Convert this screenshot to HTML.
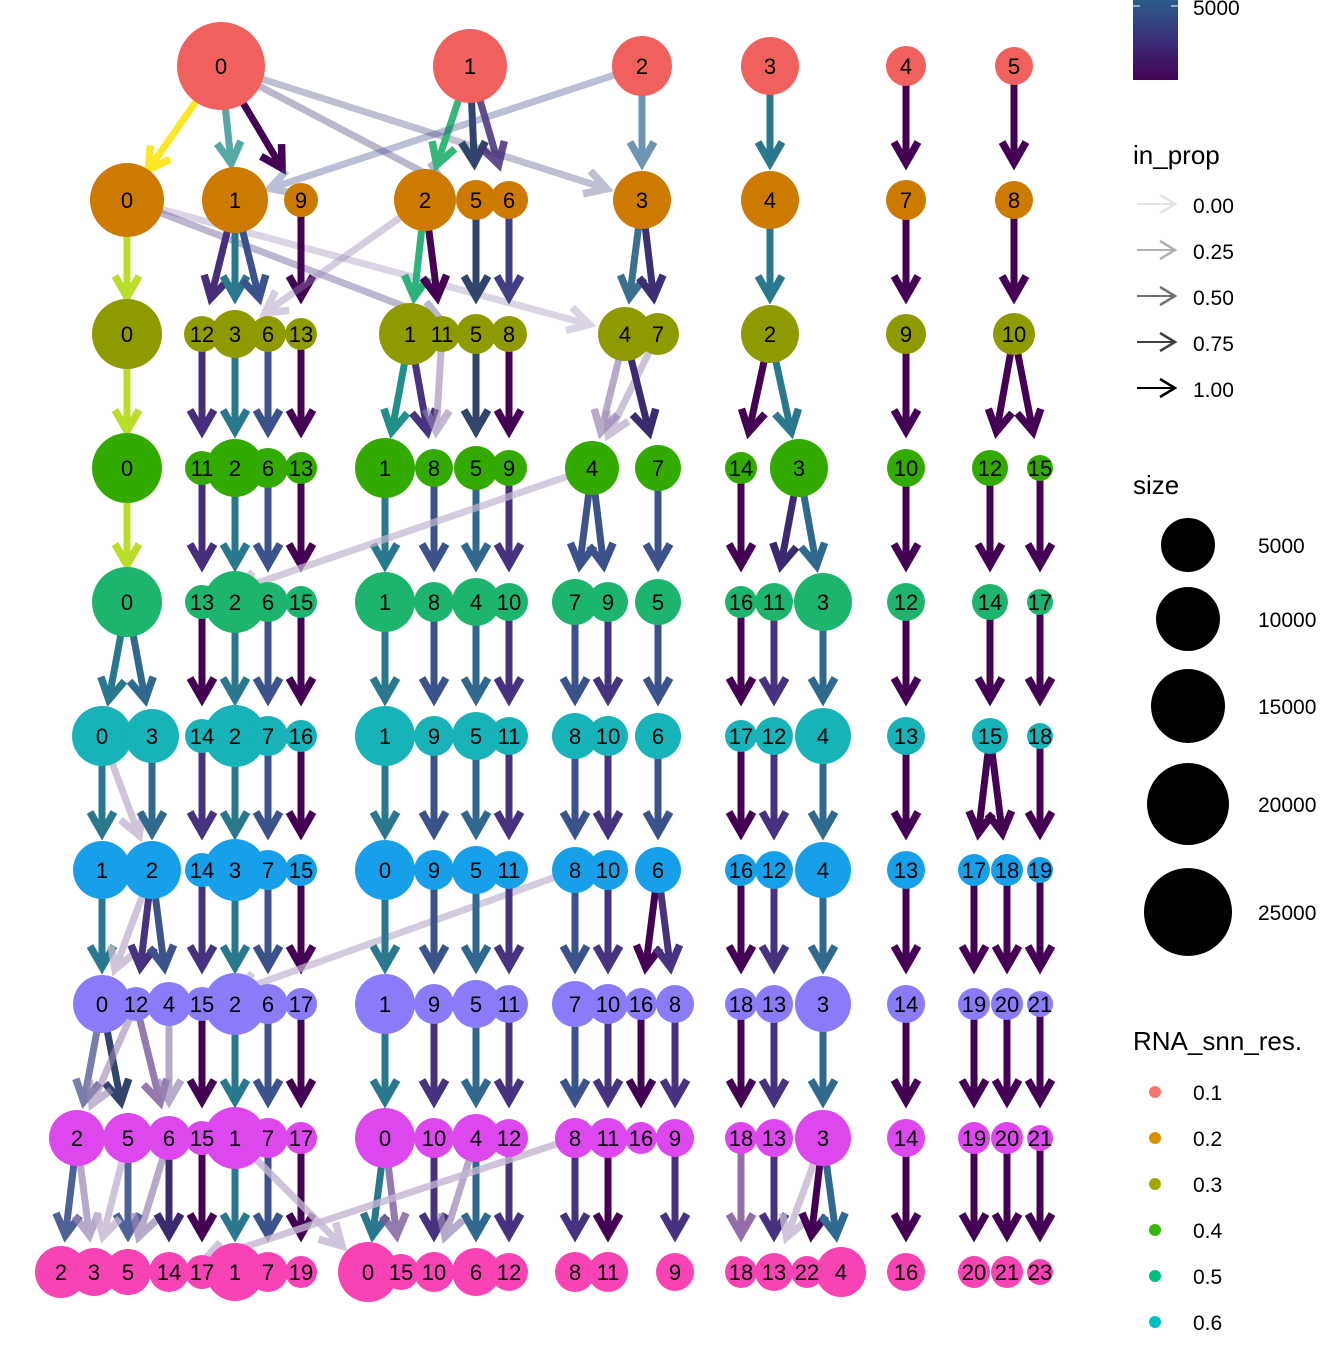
<!DOCTYPE html>
<html><head><meta charset="utf-8"><style>
html,body{margin:0;padding:0;background:#fff;}
svg text{font-family:"Liberation Sans",Arial,sans-serif;}
</style></head><body>
<svg id="s" xmlns="http://www.w3.org/2000/svg" width="1344" height="1344" viewBox="0 0 1344 1344">
<defs><linearGradient id="vg" x1="0" y1="1" x2="0" y2="0">
<stop offset="0" stop-color="#440154"/><stop offset="0.5" stop-color="#3b2f7a"/><stop offset="1" stop-color="#2a5c8a"/></linearGradient></defs>
<rect width="1344" height="1344" fill="#fff"/>
<g id="edges"></g><g id="nodes"></g>
<g id="legend">
<rect x="1133" y="0" width="45" height="80" fill="url(#vg)"/>
<line x1="1133" y1="6" x2="1140" y2="6" stroke="#fff" stroke-width="1"/>
<line x1="1171" y1="6" x2="1178" y2="6" stroke="#fff" stroke-width="1"/>
<text x="1193" y="15" font-size="21">5000</text>
<text x="1133" y="164" font-size="26">in_prop</text>
<text x="1193" y="213" font-size="21">0.00</text>
<text x="1193" y="259" font-size="21">0.25</text>
<text x="1193" y="305" font-size="21">0.50</text>
<text x="1193" y="351" font-size="21">0.75</text>
<text x="1193" y="397" font-size="21">1.00</text>
<text x="1133" y="494" font-size="26">size</text>
<circle cx="1188" cy="545" r="27"/><circle cx="1188" cy="619" r="32"/><circle cx="1188" cy="706" r="37"/><circle cx="1188" cy="804" r="41"/><circle cx="1188" cy="912" r="44"/>
<text x="1258" y="553" font-size="21">5000</text>
<text x="1258" y="627" font-size="21">10000</text>
<text x="1258" y="714" font-size="21">15000</text>
<text x="1258" y="812" font-size="21">20000</text>
<text x="1258" y="920" font-size="21">25000</text>
<text x="1133" y="1050" font-size="26">RNA_snn_res.</text>
<circle cx="1155" cy="1092" r="6" fill="#F8766D"/><text x="1193" y="1100" font-size="21">0.1</text>
<circle cx="1155" cy="1138" r="6" fill="#D89000"/><text x="1193" y="1146" font-size="21">0.2</text>
<circle cx="1155" cy="1184" r="6" fill="#A3A500"/><text x="1193" y="1192" font-size="21">0.3</text>
<circle cx="1155" cy="1230" r="6" fill="#39B600"/><text x="1193" y="1238" font-size="21">0.4</text>
<circle cx="1155" cy="1276" r="6" fill="#00BF7D"/><text x="1193" y="1284" font-size="21">0.5</text>
<circle cx="1155" cy="1322" r="6" fill="#00BFC4"/><text x="1193" y="1330" font-size="21">0.6</text>
</g>
</svg>
<script>
var NS="http://www.w3.org/2000/svg";
var cols=["#F0605D","#CC7A00","#8F9A00","#33AA00","#1DB56D","#17B3B8","#189FEA","#8A7CF8","#DD48EE","#F843B4"];
var rows=[
"0:221:44 1:470:37 2:642:30 3:770:29 4:906:20 5:1014:19",
"0:127:37 1:235:33 9:301:17 2:425:31 5:476:20 6:509:19 3:642:29 4:770:29 7:906:20 8:1014:19",
"0:127:35 12:202:18 3:235:24 6:268:18 13:301:16 1:410:31 11:442:18 5:476:20 8:509:18 4:625:27 7:658:21 2:770:29 9:906:20 10:1014:21",
"0:127:35 11:202:17 2:235:29 6:268:20 13:301:16 1:385:30 8:434:19 5:476:22 9:509:18 4:592:27 7:658:23 14:741:16 3:799:29 10:906:19 12:990:18 15:1040:13",
"0:127:35 13:202:17 2:235:31 6:268:20 15:301:16 1:385:30 8:434:20 4:476:24 10:509:19 7:575:23 9:608:20 5:658:23 16:741:16 11:774:19 3:823:29 12:906:19 14:990:18 17:1040:13",
"0:102:30 3:152:27 14:202:17 2:235:31 7:268:20 16:301:16 1:385:30 9:434:20 5:476:24 11:509:19 8:575:23 10:608:20 6:658:23 17:741:16 12:774:19 4:823:28 13:906:19 15:990:18 18:1040:13",
"1:102:29 2:152:29 14:202:17 3:235:31 7:268:20 15:301:16 0:385:30 9:434:20 5:476:24 11:509:19 8:575:23 10:608:20 6:658:23 16:741:16 12:774:19 4:823:28 13:906:19 17:974:16 18:1007:16 19:1040:13",
"0:102:29 12:136:17 4:169:22 15:202:17 2:235:31 6:268:20 17:301:16 1:385:30 9:434:20 5:476:24 11:509:19 7:575:23 10:608:20 16:641:16 8:675:19 18:741:16 13:774:19 3:823:28 14:906:19 19:974:16 20:1007:16 21:1040:13",
"2:77:28 5:128:25 6:169:22 15:202:17 1:235:31 7:268:20 17:301:16 0:385:30 10:434:20 4:476:24 12:509:19 8:575:20 11:608:20 16:641:16 9:675:19 18:741:16 13:774:19 3:823:28 14:906:19 19:974:16 20:1007:16 21:1040:13",
"2:61:26 3:94:24 5:128:23 14:169:20 17:202:17 1:235:29 7:268:20 19:301:16 0:368:30 15:401:18 10:434:20 6:476:24 12:509:19 8:575:20 11:608:20 9:675:19 18:741:16 13:774:19 22:807:16 4:841:25 16:906:19 20:974:16 21:1007:16 23:1040:13"
];
var N=[];
rows.forEach(function(r,i){var m={};r.split(" ").forEach(function(t){var p=t.split(":");m[p[0]]={x:+p[1],r:+p[2]};});N.push(m);});
var D="#440154",P="#46327e",B="#3b528b",T="#2a788e",U="#31688e",F="#9a86b4",G="#c4b6d2";
var E=[
[0,"0 0 #fde725 1|0 1 #3a9a96 0.85|0 9 #440154 1|0 5 #5a4a80 0.4|0 3 #4b4b80 0.35|1 2 #35b779 1|1 5 #31446b 1|1 6 #472d7b 0.85|2 1 #3e4a89 0.35|2 3 #4a7aa0 0.8|3 4 #2a788e 1|4 7 "+D+" 1|5 8 "+D+" 1"],
[1,"0 0 #b8de29 1|0 4 "+F+" 0.35|0 5 "+P+" 0.35|1 12 #472d7b 1|1 3 "+T+" 1|1 6 "+B+" 1|9 13 "+D+" 1|2 1 #2db27d 1|2 11 "+D+" 1|2 3 "+F+" 0.4|5 5 #31446b 1|6 8 #433e85 1|3 4 #3b6f8e 1|3 7 #3e2f72 1|4 2 "+T+" 1|7 9 "+D+" 1|8 10 "+D+" 1"],
[2,"0 0 #b8de29 1|12 11 #472d7b 1|3 2 "+T+" 1|6 6 "+B+" 1|13 13 "+D+" 1|1 1 #21908c 1|1 8 "+P+" 1|11 8 "+F+" 0.6|5 5 #31446b 1|8 9 "+D+" 1|4 4 "+F+" 0.7|7 4 "+F+" 0.5|4 7 #3b2a6e 1|2 14 "+D+" 1|2 3 "+T+" 1|9 10 "+D+" 1|10 12 "+D+" 1|10 15 "+D+" 1"],
[3,"0 0 #b8de29 1|11 13 #472d7b 1|2 2 "+T+" 1|6 6 "+B+" 1|13 15 "+D+" 1|1 1 "+T+" 1|8 8 "+B+" 1|5 4 "+U+" 1|9 10 "+P+" 1|4 7 "+B+" 1|4 9 "+B+" 1|7 5 "+B+" 1|4 13 "+G+" 0.7|14 16 "+D+" 1|3 11 #3b2a6e 1|3 3 "+U+" 1|10 12 "+D+" 1|12 14 "+D+" 1|15 17 "+D+" 1"],
[4,"0 0 "+T+" 1|0 3 "+U+" 1|13 14 "+D+" 1|2 2 "+T+" 1|6 7 "+B+" 1|15 16 "+D+" 1|1 1 "+T+" 1|8 9 "+B+" 1|4 5 "+U+" 1|10 11 "+P+" 1|7 8 "+B+" 1|9 10 "+P+" 1|5 6 "+B+" 1|16 17 "+D+" 1|11 12 "+P+" 1|3 4 "+U+" 1|12 13 "+D+" 1|14 15 "+D+" 1|17 18 "+D+" 1"],
[5,"0 1 "+T+" 1|0 2 "+G+" 0.8|3 2 "+U+" 1|14 14 "+P+" 1|2 3 "+T+" 1|7 7 "+B+" 1|16 15 "+D+" 1|1 0 "+T+" 1|9 9 "+B+" 1|5 5 "+U+" 1|11 11 "+P+" 1|8 8 "+B+" 1|10 10 "+P+" 1|6 6 "+B+" 1|17 16 "+D+" 1|12 12 "+P+" 1|4 4 "+U+" 1|13 13 "+D+" 1|15 17 "+D+" 1|15 18 "+D+" 1|18 19 "+D+" 1"],
[6,"1 0 "+T+" 1|2 0 "+G+" 0.8|2 12 "+P+" 1|2 4 "+B+" 1|14 15 "+P+" 1|3 2 "+T+" 1|7 6 "+B+" 1|15 17 "+D+" 1|8 15 "+G+" 0.7|0 1 "+T+" 1|9 9 "+B+" 1|5 5 "+U+" 1|11 11 "+P+" 1|8 7 "+B+" 1|10 10 "+P+" 1|6 16 "+D+" 1|6 8 "+P+" 1|16 18 "+D+" 1|12 13 "+P+" 1|4 3 "+U+" 1|13 14 "+D+" 1|17 19 "+D+" 1|18 20 "+D+" 1|19 21 "+D+" 1"],
[7,"0 2 #6b6fa0 0.9|0 5 #31446b 1|12 2 "+F+" 0.6|12 6 #7a5a9a 0.8|4 6 "+F+" 0.7|15 15 "+D+" 1|2 1 "+T+" 1|6 7 "+B+" 1|17 17 "+D+" 1|1 0 "+T+" 1|9 10 "+P+" 1|5 4 "+U+" 1|11 12 "+P+" 1|7 8 "+B+" 1|10 11 "+P+" 1|16 16 "+D+" 1|8 9 "+P+" 1|18 18 "+D+" 1|13 13 "+P+" 1|3 3 "+U+" 1|14 14 "+D+" 1|19 19 "+D+" 1|20 20 "+D+" 1|21 21 "+D+" 1"],
[8,"2 2 "+B+" 0.9|2 3 "+F+" 0.7|5 5 "+B+" 0.9|5 3 "+G+" 0.8|6 5 "+F+" 0.7|6 14 #3b2a6e 1|15 17 "+D+" 1|1 1 "+T+" 1|7 7 "+B+" 1|17 19 "+D+" 1|1 0 "+G+" 0.8|0 0 "+T+" 1|0 15 #7a5a9a 0.8|10 10 "+P+" 1|4 6 "+U+" 1|4 10 "+F+" 0.7|12 12 "+P+" 1|8 14 "+G+" 0.8|8 8 "+P+" 1|11 11 "+D+" 1|9 9 "+P+" 1|18 18 #7a4a90 0.8|13 13 "+P+" 1|3 13 "+G+" 0.8|3 22 "+D+" 1|3 4 "+U+" 1|14 16 "+D+" 1|19 20 "+D+" 1|20 21 "+D+" 1|21 23 "+D+" 1"]
];
var eg=document.getElementById("edges"),ng=document.getElementById("nodes");
function el(n,a,p){var e=document.createElementNS(NS,n);for(var k in a)e.setAttribute(k,a[k]);p.appendChild(e);return e;}
E.forEach(function(r){var i=r[0];r[1].split("|").forEach(function(s){var p=s.split(" ");var a=N[i][p[0]],b=N[i+1][p[1]];if(!a||!b)return;
var x1=a.x,y1=66+134*i,x2=b.x,y2=66+134*(i+1);var dx=x2-x1,dy=y2-y1,L=Math.sqrt(dx*dx+dy*dy),ux=dx/L,uy=dy/L;
var tx=x2-ux*37,ty=y2-uy*37;var g=el("g",{opacity:p[3]},eg);
el("line",{x1:x1,y1:y1,x2:tx-ux*4,y2:ty-uy*4,stroke:p[2],"stroke-width":7},g);
var al=21,aw=12;var bx=tx-ux*al,by=ty-uy*al;
el("polyline",{points:(bx-uy*aw)+","+(by+ux*aw)+" "+tx+","+ty+" "+(bx+uy*aw)+","+(by-ux*aw),fill:"none",stroke:p[2],"stroke-width":7.5,"stroke-linejoin":"miter","stroke-miterlimit":6},g);
});});
N.forEach(function(m,i){var y=66+134*i;for(var k in m){var n=m[k];el("circle",{cx:n.x,cy:y,r:n.r,fill:cols[i]},ng);}
for(var k in m){var n=m[k];var t=el("text",{x:n.x,y:y+8,"font-size":22,"text-anchor":"middle",fill:"#000"},ng);t.textContent=k;}});
var lg=document.getElementById("legend");[0.1,0.3,0.55,0.75,1].forEach(function(o,j){var y=204+46*j;var g=el("g",{opacity:o},lg);
el("line",{x1:1137,y1:y,x2:1174,y2:y,stroke:"#000","stroke-width":2},g);
el("polyline",{points:"1160,"+(y-9)+" 1175,"+y+" 1160,"+(y+9),fill:"none",stroke:"#000","stroke-width":2.5},g);});
</script>
</body></html>
